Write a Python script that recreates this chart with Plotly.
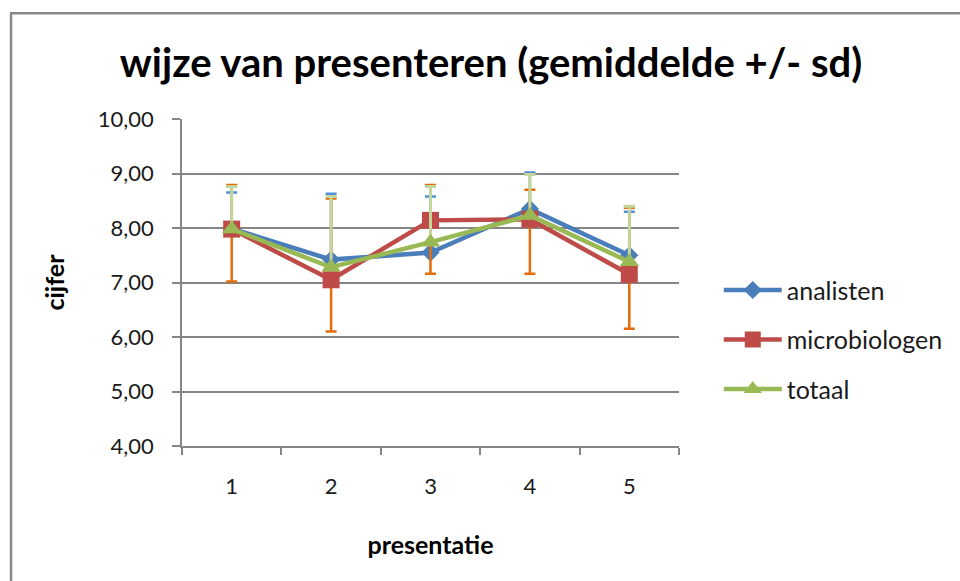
import plotly.graph_objects as go

categories = ["1", "2", "3", "4", "5"]

analisten = [7.99, 7.42, 7.55, 8.35, 7.50]
analisten_sd_plus = [0.66, 1.21, 1.03, 0.67, 0.80]

microbiologen = [7.98, 7.05, 8.14, 8.16, 7.15]
microbiologen_sd_plus = [0.81, 1.49, 0.65, 0.54, 1.22]
microbiologen_sd_minus = [0.96, 0.95, 0.98, 1.00, 1.00]

totaal = [7.98, 7.28, 7.74, 8.23, 7.38]
totaal_sd_plus = [0.78, 1.30, 1.02, 0.75, 1.02]

y_ticks = [4, 5, 6, 7, 8, 9, 10]

FONT = "Lato"
GRID = "#868686"

fig = go.Figure()

fig.add_trace(go.Scatter(
    x=categories, y=analisten, name="analisten", legendgroup="a",
    mode="lines+markers",
    line=dict(color="#4a7ebb", width=4.5),
    marker=dict(symbol="diamond", size=14, color="#4a7ebb"),
    error_y=dict(type="data", array=analisten_sd_plus, arrayminus=[0] * 5,
                 symmetric=False, color="#558ed5", thickness=2.5, width=5.5),
))
fig.add_trace(go.Scatter(
    x=categories, y=microbiologen, name="microbiologen", legendgroup="b",
    mode="lines+markers",
    line=dict(color="#be4b48", width=4.5),
    marker=dict(symbol="square", size=17, color="#be4b48"),
    error_y=dict(type="data", array=microbiologen_sd_plus, arrayminus=microbiologen_sd_minus,
                 symmetric=False, color="#e46c0a", thickness=2.5, width=5.5),
))
fig.add_trace(go.Scatter(
    x=categories, y=totaal, name="totaal", legendgroup="c",
    mode="lines+markers",
    line=dict(color="#98b954", width=4.5),
    marker=dict(symbol="triangle-up", size=17, color="#98b954"),
    error_y=dict(type="data", array=totaal_sd_plus, arrayminus=[0] * 5,
                 symmetric=False, color="#c3d69b", thickness=3, width=5.5),
))

# outer chart border (partially visible, as in the reference)
L, T, PW, PH = 182, 118.5, 500, 327.5
def px_x(p):
    return (p - L) / PW
def px_y(p):
    return (T + PH - p) / PH

shapes = [
    dict(type="line", xref="paper", yref="paper", x0=px_x(10), x1=px_x(10),
         y0=px_y(12.5), y1=px_y(600), line=dict(color="#888888", width=2.5)),
    dict(type="line", xref="paper", yref="paper", x0=px_x(9), x1=px_x(970),
         y0=px_y(12.5), y1=px_y(12.5), line=dict(color="#888888", width=2.5)),
]

fig.update_layout(
    width=960, height=581,
    margin=dict(l=L, r=960 - L - PW, t=T, b=581 - T - PH, pad=0),
    paper_bgcolor="white", plot_bgcolor="white",
    separators=",.",
    font=dict(family=FONT, size=22, color="#1a1a1a"),
    title=dict(text="<b>wijze van presenteren (gemiddelde +/- sd)</b>",
               x=491 / 960, xanchor="center", y=1 - 63 / 581, yanchor="middle",
               font=dict(family=FONT, size=40, color="#000000")),
    showlegend=True,
    legend=dict(x=px_x(722), y=px_y(267), xanchor="left", yanchor="top",
                traceorder="grouped", tracegroupgap=14, itemwidth=58,
                font=dict(family=FONT, size=25, color="#1a1a1a"),
                bgcolor="rgba(0,0,0,0)"),
    shapes=shapes,
)

fig.update_xaxes(
    type="category", range=[-0.5, 4.5], tickson="boundaries",
    ticks="outside", ticklen=7, tickcolor=GRID, tickwidth=1.5,
    showline=True, linecolor=GRID, linewidth=1.5,
    showgrid=False, zeroline=False,
    ticklabelstandoff=20,
    title=dict(text="<b>presentatie</b>", standoff=38,
               font=dict(family=FONT, size=25, color="#000000")),
)
fig.update_yaxes(
    range=[4, 10], tickvals=y_ticks, tickformat=".2f",
    ticks="outside", ticklen=8, tickcolor=GRID, tickwidth=1.5,
    showline=True, linecolor=GRID, linewidth=1.5,
    showgrid=True, gridcolor=GRID, gridwidth=1.5, zeroline=False,
    ticklabelstandoff=14,
    title=dict(text="<b>cijfer</b>", standoff=26,
               font=dict(family=FONT, size=25, color="#000000")),
)

fig.write_html("out.html", config={"displayModeBar": False},
               post_script="document.body.style.margin='0';")
